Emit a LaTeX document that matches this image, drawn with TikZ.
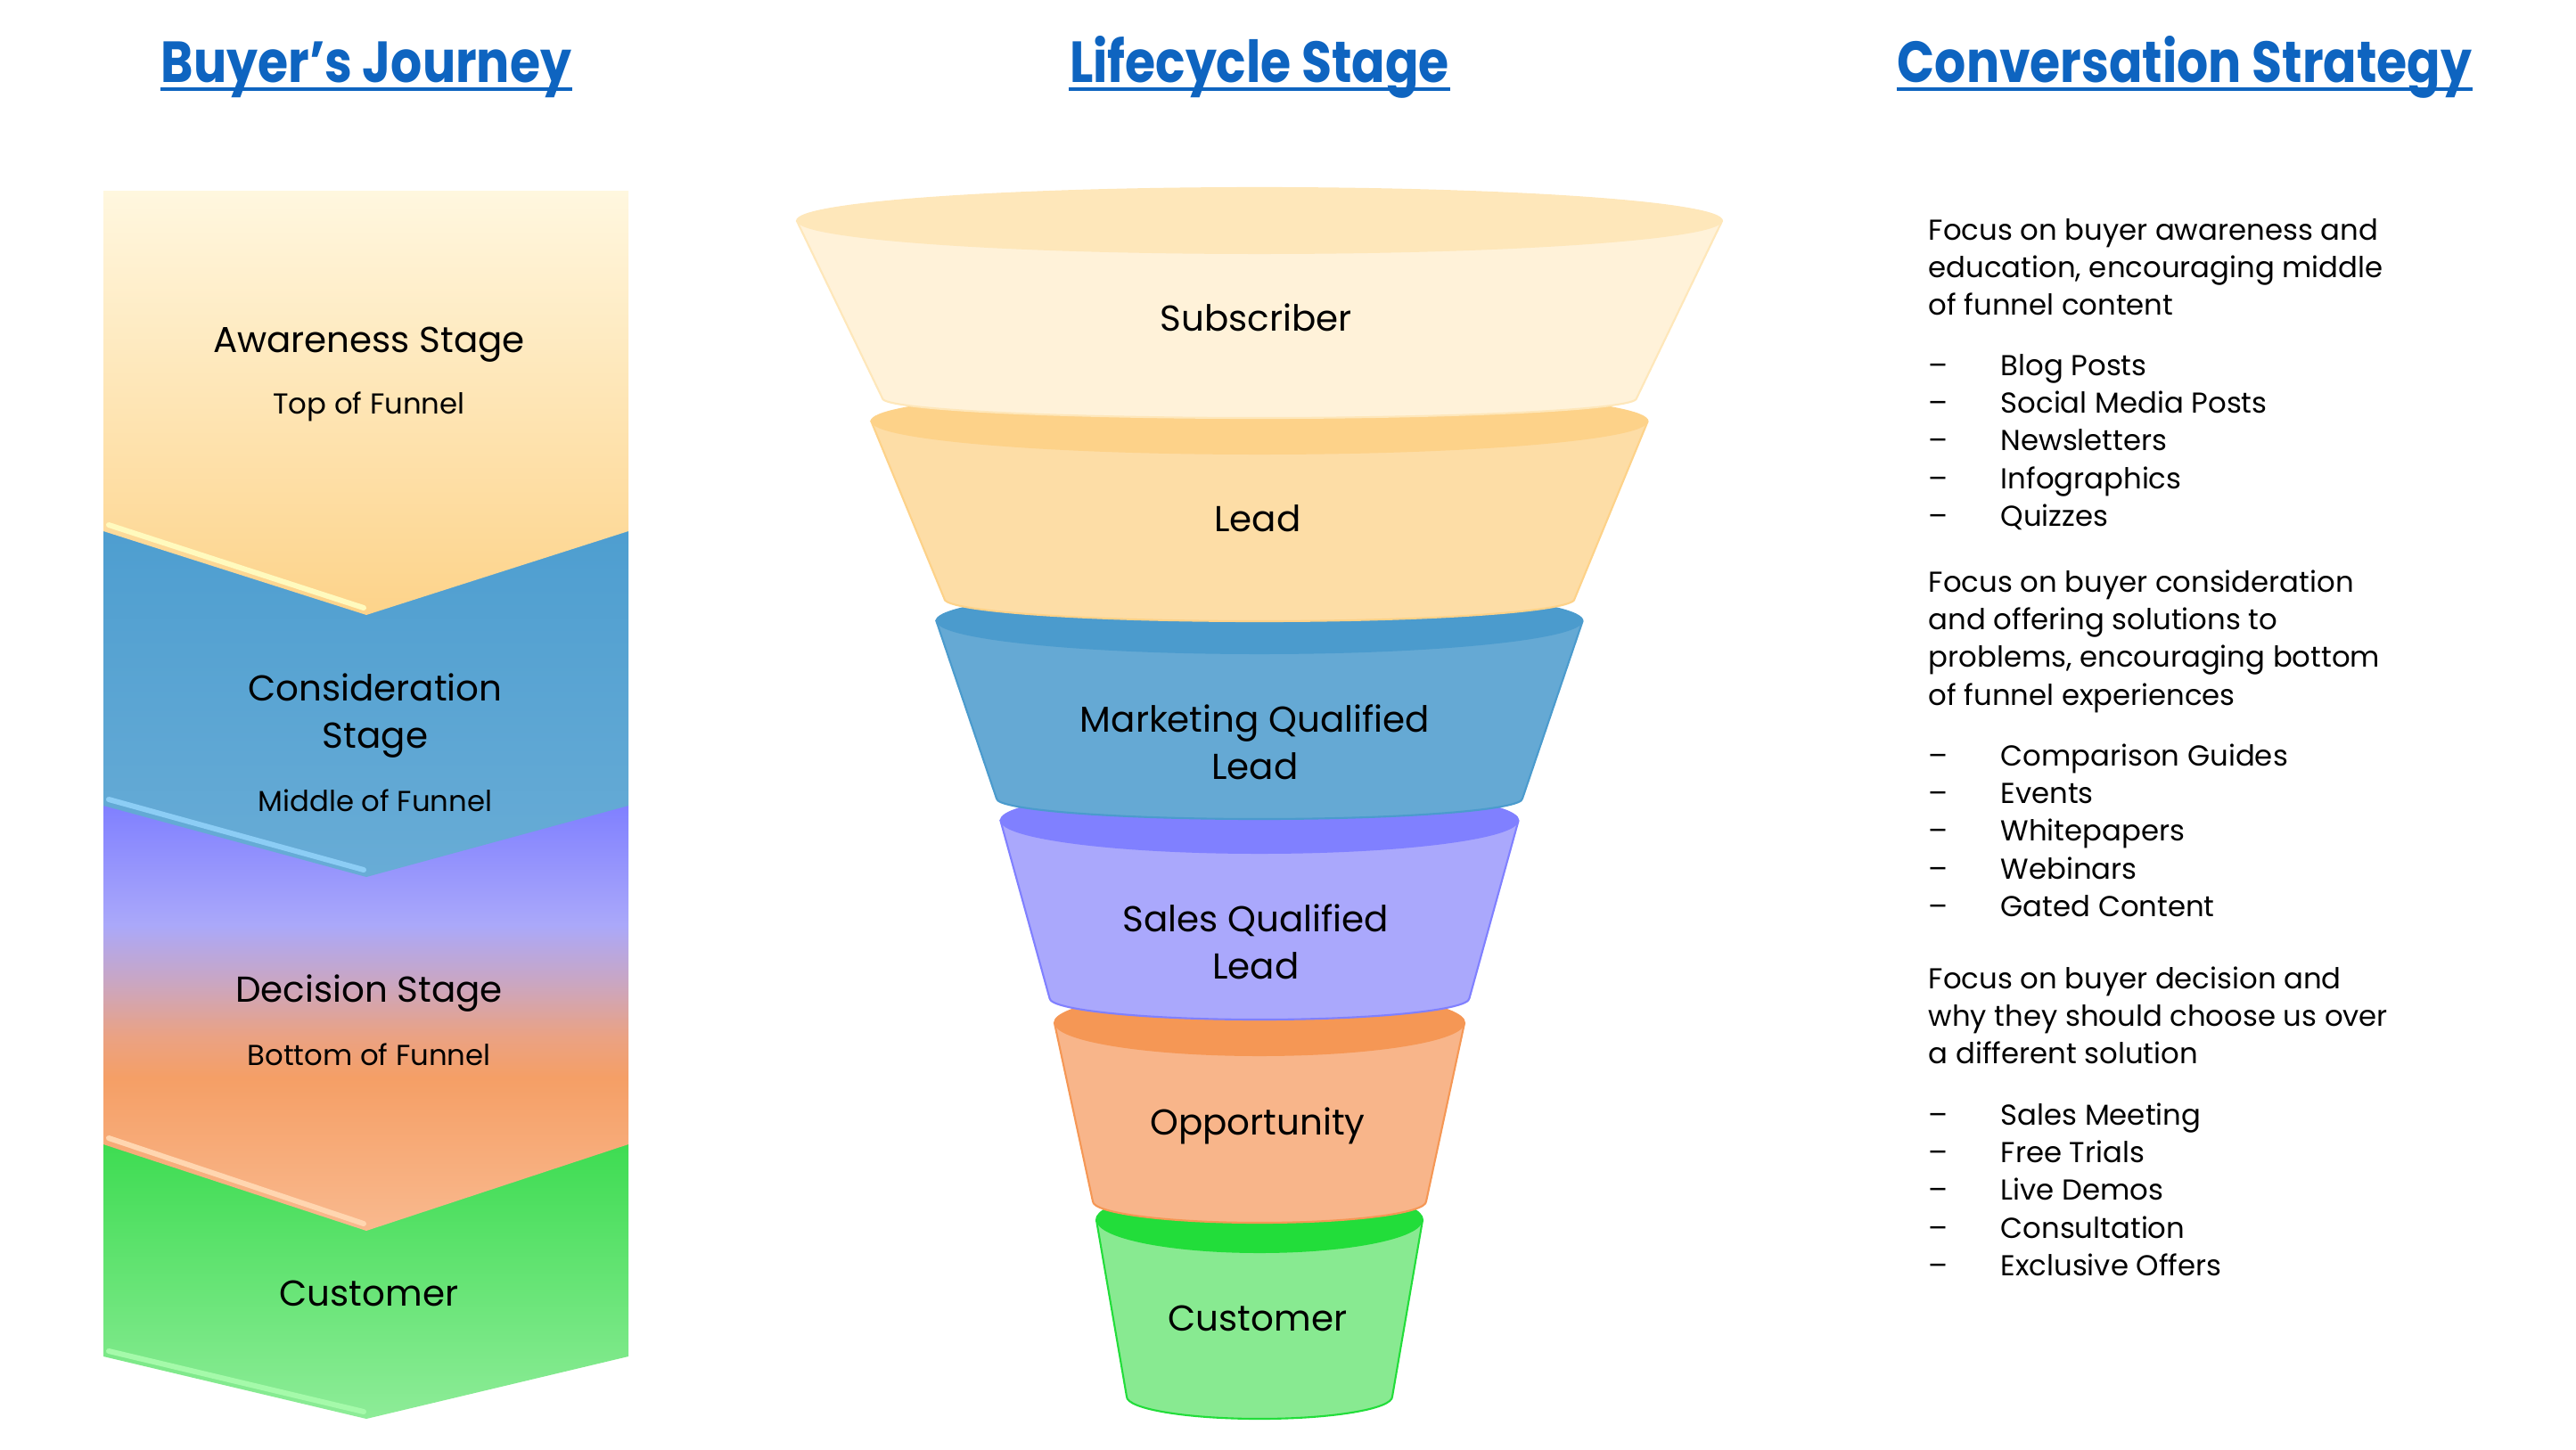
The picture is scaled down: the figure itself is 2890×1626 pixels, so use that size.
\documentclass[tikz,border=0pt]{standalone}
\usepackage{fontspec}
\setmainfont{Poppins}
\newfontfamily\titlefont[FakeStretch=0.85]{Poppins}

\definecolor{titleblue}{RGB}{14,100,192}
\definecolor{awaretop}{RGB}{255,247,223}
\definecolor{awarebot}{RGB}{253,211,138}
\definecolor{awarehl}{RGB}{255,250,190}
\definecolor{constop}{RGB}{78,158,208}
\definecolor{consbot}{RGB}{104,172,214}
\definecolor{conshl}{RGB}{140,205,245}
\definecolor{decA}{RGB}{128,128,255}
\definecolor{decB}{RGB}{170,168,250}
\definecolor{decC}{RGB}{203,166,192}
\definecolor{decD}{RGB}{234,162,132}
\definecolor{decE}{RGB}{245,159,102}
\definecolor{decF}{RGB}{249,185,142}
\definecolor{dechl}{RGB}{255,214,176}
\definecolor{custtop}{RGB}{62,220,82}
\definecolor{custbot}{RGB}{142,236,152}
\definecolor{custhl}{RGB}{165,250,170}
\definecolor{subbody}{RGB}{255,242,217}
\definecolor{subrim}{RGB}{254,231,186}
\definecolor{leadbody}{RGB}{253,221,166}
\definecolor{leadrim}{RGB}{253,210,137}
\definecolor{mqlbody}{RGB}{101,169,212}
\definecolor{mqlrim}{RGB}{75,155,205}
\definecolor{sqlbody}{RGB}{170,168,252}
\definecolor{sqlrim}{RGB}{128,128,255}
\definecolor{oppbody}{RGB}{248,181,138}
\definecolor{opprim}{RGB}{245,151,85}
\definecolor{fcustbody}{RGB}{136,234,145}
\definecolor{fcustrim}{RGB}{34,221,58}

\pgfdeclareverticalshading{decision}{100bp}{color(0bp)=(decF); color(25bp)=(decF); color(43bp)=(decE); color(48bp)=(decD); color(54bp)=(decC); color(61bp)=(decB); color(75bp)=(decA); color(100bp)=(decA)}

\begin{document}
\begin{tikzpicture}[x=0.1mm,y=-0.1mm,
  ttl/.style={font=\titlefont\bfseries\fontsize{18.5}{22}\selectfont, text=titleblue, anchor=base, inner sep=0pt},
  lbl/.style={font=\fontsize{11.5}{14}\selectfont, anchor=base, inner sep=0pt},
  sublbl/.style={font=\fontsize{9.2}{12}\selectfont, anchor=base, inner sep=0pt},
  body/.style={font=\fontsize{9.2}{12}\selectfont, anchor=base west, inner sep=0pt}]
\useasboundingbox (0,0) rectangle (2890,1626);
\newcommand{\jleft}{116}
\newcommand{\jright}{705}
\newcommand{\jmid}{411}
\newcommand{\fx}{1413}
\newcommand{\tx}{2163}
\newcommand{\dash}[1]{\makebox[8.1mm][l]{–}#1}

\node [ttl] (tbuyer) at (411,92) {Buyer’s Journey};
\node [ttl] (tlife) at (1413,92) {Lifecycle Stage};
\node [ttl] (tconv) at (2451,92) {Conversation Strategy};
\foreach \t in {tbuyer,tlife,tconv}
  \draw [titleblue, line width=0.35mm] ([yshift=-0.8mm]\t.base west) -- ([yshift=-0.8mm]\t.base east);

\shade [top color=custtop, bottom color=custbot] (\jleft,1284) -- (\jright,1284) -- (\jright,1522) -- (\jmid,1592) -- (\jleft,1522) -- cycle;
\draw [custhl, line width=0.6mm, line cap=round] (\jleft+6,1516) -- (\jmid-3,1584);
\shade [shading=decision] (\jleft,904) -- (\jright,904) -- (\jright,1284) -- (\jmid,1381) -- (\jleft,1284) -- cycle;
\draw [dechl, line width=0.6mm, line cap=round] (\jleft+6,1277) -- (\jmid-3,1373);
\shade [top color=constop, bottom color=consbot] (\jleft,596) -- (\jright,596) -- (\jright,904) -- (\jmid,984) -- (\jleft,904) -- cycle;
\draw [conshl, line width=0.6mm, line cap=round] (\jleft+6,897) -- (\jmid-3,976);
\shade [top color=awaretop, bottom color=awarebot] (\jleft,214) -- (\jright,214) -- (\jright,596) -- (\jmid,690) -- (\jleft,596) -- cycle;
\draw [awarehl, line width=0.6mm, line cap=round] (\jleft+6,589) -- (\jmid-3,682);

\node [lbl] (jaware) at (414,395) {Awareness Stage};
\node [sublbl] (jawaresub) at (414,464) {Top of Funnel};
\node [lbl] (jcons) at (421,786) {Consideration};
\node [lbl] (jconsb) at (421,839) {Stage};
\node [sublbl] (jconssub) at (421,910) {Middle of Funnel};
\node [lbl] (jdec) at (414,1124) {Decision Stage};
\node [sublbl] (jdecsub) at (414,1195) {Bottom of Funnel};
\node [lbl] (jcust) at (414,1465) {Customer};

\foreach \yt/\at/\yb/\ab/\ryb/\fbody/\frim in {1369/183/1567/149/25/fcustbody/fcustrim, 1148/230/1348/187/24/oppbody/opprim, 921/290.5/1120/235.5/24/sqlbody/sqlrim, 697/362.5/896/295/23/mqlbody/mqlrim, 473/435.5/672/353.5/25/leadbody/leadrim, 248/519/447/423/22/subbody/subrim}
{
\draw [fill=\fbody, draw=\frim, line width=0.6pt] (\fx-\at,\yt) -- (\fx-\ab,\yb) arc [start angle=180, end angle=0, x radius=\ab, y radius=\ryb] -- (\fx+\at,\yt) arc [start angle=0, end angle=-180, x radius=\at, y radius=37] -- cycle;
\fill [\frim] (\fx,\yt) ellipse [x radius=\at, y radius=37];
}

\node [lbl] (fsub) at (1409,371) {Subscriber};
\node [lbl] (flead) at (1411,596) {Lead};
\node [lbl] (fmql) at (1408,821) {Marketing Qualified};
\node [lbl] (fmqlb) at (1408,874) {Lead};
\node [lbl] (fsql) at (1409,1045) {Sales Qualified};
\node [lbl] (fsqlb) at (1409,1098) {Lead};
\node [lbl] (fopp) at (1411,1273) {Opportunity};
\node [lbl] (fcust) at (1411,1493) {Customer};

\foreach \s [count=\i] in {Focus on buyer awareness and, {education, encouraging middle}, of funnel content}
  \node [body] (pa\i) at (\tx,269+42.4*\i-42.4) {\s};
\foreach \s [count=\i] in {Blog Posts, Social Media Posts, Newsletters, Infographics, Quizzes}
  \node [body] (la\i) at (\tx,421+42.4*\i-42.4) {\dash{\s}};
\foreach \s [count=\i] in {Focus on buyer consideration, and offering solutions to, {problems, encouraging bottom}, of funnel experiences}
  \node [body] (pb\i) at (\tx,664+42.4*\i-42.4) {\s};
\foreach \s [count=\i] in {Comparison Guides, Events, Whitepapers, Webinars, Gated Content}
  \node [body] (lb\i) at (\tx,859+42.4*\i-42.4) {\dash{\s}};
\foreach \s [count=\i] in {Focus on buyer decision and, why they should choose us over, a different solution}
  \node [body] (pc\i) at (\tx,1109+42.4*\i-42.4) {\s};
\foreach \s [count=\i] in {Sales Meeting, Free Trials, Live Demos, Consultation, Exclusive Offers}
  \node [body] (lc\i) at (\tx,1262+42.4*\i-42.4) {\dash{\s}};
\end{tikzpicture}
\end{document}
